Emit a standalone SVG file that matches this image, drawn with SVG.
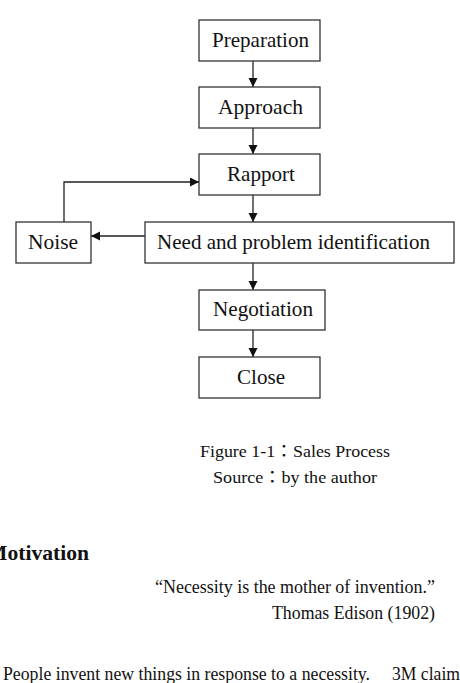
<svg xmlns="http://www.w3.org/2000/svg" width="460" height="683" viewBox="0 0 460 683">
<defs>
<marker id="ah" markerWidth="10" markerHeight="10" refX="9" refY="4.5" orient="auto" markerUnits="userSpaceOnUse">
<path d="M0,0 L9,4.5 L0,9 Z" fill="#111"/>
</marker>
<style>
rect.box{fill:#fff;stroke:#333;stroke-width:1.3}
text{font-family:"Liberation Serif","Noto Sans CJK TC",serif;fill:#111}
.lbl{font-size:22px}
.cap{font-size:17px}
.body{font-size:18px}
.conn{fill:none;stroke:#222;stroke-width:1.3;marker-end:url(#ah)}
</style>
</defs>
<rect width="460" height="683" fill="#fff"/>
<g id="connectors">
<line class="conn" x1="253" y1="61" x2="253" y2="87"/>
<line class="conn" x1="253" y1="128" x2="253" y2="154"/>
<line class="conn" x1="253" y1="195" x2="253" y2="222"/>
<line class="conn" x1="253" y1="263" x2="253" y2="290"/>
<line class="conn" x1="253" y1="330" x2="253" y2="357"/>
<line class="conn" x1="145" y1="236" x2="91" y2="236"/>
<polyline class="conn" points="64,222 64,182 199,182"/>
</g>
<g id="preparation"><rect class="box" x="199" y="20" width="121" height="41"/><text class="lbl" x="212" y="47" textLength="97" lengthAdjust="spacingAndGlyphs">Preparation</text></g>
<g id="approach"><rect class="box" x="199" y="87" width="121" height="41"/><text class="lbl" x="218" y="114" textLength="85" lengthAdjust="spacingAndGlyphs">Approach</text></g>
<g id="rapport"><rect class="box" x="199" y="154" width="121" height="41"/><text class="lbl" x="227" y="181" textLength="68" lengthAdjust="spacingAndGlyphs">Rapport</text></g>
<g id="need"><rect class="box" x="145" y="222" width="309" height="41"/><text class="lbl" x="157" y="249" textLength="273" lengthAdjust="spacingAndGlyphs">Need and problem identification</text></g>
<g id="noise"><rect class="box" x="16" y="222" width="75" height="41"/><text class="lbl" x="28" y="249" textLength="50" lengthAdjust="spacingAndGlyphs">Noise</text></g>
<g id="negotiation"><rect class="box" x="199" y="290" width="126" height="40"/><text class="lbl" x="213" y="316" textLength="100" lengthAdjust="spacingAndGlyphs">Negotiation</text></g>
<g id="close"><rect class="box" x="199" y="357" width="121" height="41"/><text class="lbl" x="237" y="384" textLength="48" lengthAdjust="spacingAndGlyphs">Close</text></g>
<text class="cap" x="200" y="457" textLength="190" lengthAdjust="spacingAndGlyphs">Figure 1-1：Sales Process</text>
<text class="cap" x="213" y="483" textLength="164" lengthAdjust="spacingAndGlyphs">Source：by the author</text>
<text x="-13" y="560" font-weight="bold" font-size="21" textLength="102" lengthAdjust="spacingAndGlyphs">Motivation</text>
<text class="body" x="155" y="593" textLength="280" lengthAdjust="spacingAndGlyphs">“Necessity is the mother of invention.”</text>
<text class="body" x="272" y="619" textLength="163" lengthAdjust="spacingAndGlyphs">Thomas Edison (1902)</text>
<text class="body" x="3" y="680" textLength="367" lengthAdjust="spacingAndGlyphs">People invent new things in response to a necessity.</text>
<text class="body" x="392" y="680" textLength="68" lengthAdjust="spacingAndGlyphs">3M claim</text>
</svg>
